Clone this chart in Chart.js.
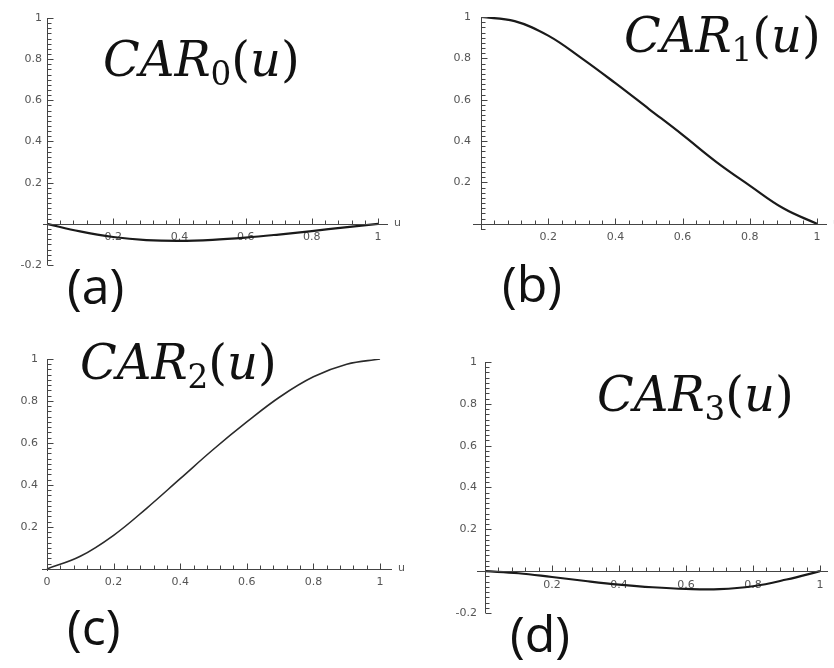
<!DOCTYPE html>
<html>
<head>
<meta charset="utf-8">
<script src="https://cdn.jsdelivr.net/npm/chart.js@4.4.1/dist/chart.umd.min.js"></script>
<style>
  body { margin: 0; background: #fff; }
  #page { position: relative; width: 834px; height: 668px; overflow: hidden; background: #fff; }
  .panel { position: absolute; }
  .title { position: absolute; font-family: 'DejaVu Serif', serif; font-style: italic; font-size: 48px; line-height: 1; white-space: nowrap; color: #111; }
  .title .sub { font-style: normal; font-size: 0.68em; position: relative; top: 0.28em; }
  .title .par { font-style: normal; }
  .tag { position: absolute; font-family: 'Open Sans', sans-serif; font-size: 50px; line-height: 1; color: #111; }
</style>
</head>
<body>
<div id="page">
  <div class="panel" style="left:0;top:0;width:417px;height:330px"><canvas id="chartA"></canvas></div>
  <div class="panel" style="left:417px;top:0;width:417px;height:330px"><canvas id="chartB"></canvas></div>
  <div class="panel" style="left:0;top:330px;width:417px;height:338px"><canvas id="chartC"></canvas></div>
  <div class="panel" style="left:417px;top:330px;width:417px;height:338px"><canvas id="chartD"></canvas></div>

  <div class="title" style="left:103px;top:35px">CAR<span class="sub">0</span><span class="par">(</span>u<span class="par">)</span></div>
  <div class="title" style="left:624px;top:11px">CAR<span class="sub">1</span><span class="par">(</span>u<span class="par">)</span></div>
  <div class="title" style="left:80px;top:338px">CAR<span class="sub">2</span><span class="par">(</span>u<span class="par">)</span></div>
  <div class="title" style="left:597px;top:370px">CAR<span class="sub">3</span><span class="par">(</span>u<span class="par">)</span></div>

  <div class="tag" style="left:67px;top:260px">(a)</div>
  <div class="tag" style="left:502px;top:258px">(b)</div>
  <div class="tag" style="left:67px;top:601px">(c)</div>
  <div class="tag" style="left:510px;top:608px">(d)</div>
</div>
<script>
// u samples and the four basis curves
const uValues = [0, 0.1, 0.2, 0.3, 0.4, 0.5, 0.6, 0.7, 0.8, 0.9, 1];
const car0 = [0, -0.037, -0.064, -0.079, -0.083, -0.078, -0.067, -0.052, -0.035, -0.017, 0];
const car1 = [1, 0.98, 0.91, 0.8, 0.68, 0.555, 0.43, 0.3, 0.185, 0.075, 0];
const car2 = [0, 0.06, 0.16, 0.29, 0.43, 0.57, 0.7, 0.82, 0.915, 0.975, 1];
const car3 = [0, -0.01, -0.028, -0.047, -0.064, -0.077, -0.085, -0.086, -0.072, -0.04, 0];

// tick labels
const xTicksNoZero = [0.2, 0.4, 0.6, 0.8, 1];
const xTicksWithZero = [0, 0.2, 0.4, 0.6, 0.8, 1];
const yTicksSigned = [-0.2, 0.2, 0.4, 0.6, 0.8, 1];
const yTicksPositive = [0.2, 0.4, 0.6, 0.8, 1];

const X_MINOR = 0.04;
const Y_MINOR = 0.025;
const Y_AXIS_W = 40;

function fmt(v) {
  if (Math.abs(v) < 1e-9) return '0';
  return String(Math.round(v * 10) / 10);
}

// axes crossing at the origin, with short ticks pointing into the plot
const crossAxes = {
  id: 'crossAxes',
  afterDatasetsDraw(chart, args, opts) {
    const { ctx, chartArea: a, scales: { x, y } } = chart;
    const x0 = Math.round(x.getPixelForValue(0)) + 0.5;
    const y0 = Math.round(y.getPixelForValue(0)) + 0.5;
    ctx.save();
    ctx.strokeStyle = '#444';
    ctx.lineWidth = 1;
    ctx.beginPath();
    ctx.moveTo(a.left, y0); ctx.lineTo(a.right, y0);
    ctx.moveTo(x0, a.top); ctx.lineTo(x0, a.bottom);
    for (let i = 1; i * X_MINOR <= 1.0001; i++) {
      const px = Math.round(x.getPixelForValue(i * X_MINOR)) + 0.5;
      const len = i % 5 === 0 ? 6 : 4;
      ctx.moveTo(px, y0); ctx.lineTo(px, y0 - len);
    }
    const iStart = Math.ceil(y.min / Y_MINOR - 1e-6);
    const iEnd = Math.floor(y.max / Y_MINOR + 1e-6);
    for (let i = iStart; i <= iEnd; i++) {
      if (i === 0) continue;
      const py = Math.round(y.getPixelForValue(i * Y_MINOR)) + 0.5;
      const len = i % 8 === 0 ? 6 : 4;
      ctx.moveTo(x0, py); ctx.lineTo(x0 + len, py);
    }
    ctx.stroke();
    if (opts.uLabel) {
      ctx.fillStyle = '#555';
      ctx.font = '11px "DejaVu Sans"';
      ctx.textBaseline = 'middle';
      ctx.fillText('u', a.right + 6, y0 - 1);
    }
    ctx.restore();
  }
};

function makeChart(p) {
  const points = uValues.map((u, i) => ({ x: u, y: p.values[i] }));
  return new Chart(document.getElementById(p.id), {
    type: 'line',
    data: {
      datasets: [{
        data: points,
        borderColor: p.color,
        borderWidth: p.width,
        pointRadius: 0,
        tension: 0.4,
        fill: false
      }]
    },
    options: {
      responsive: true,
      maintainAspectRatio: false,
      animation: false,
      events: [],
      layout: { padding: p.pad },
      plugins: {
        legend: { display: false },
        tooltip: { enabled: false },
        crossAxes: { uLabel: p.uLabel }
      },
      scales: {
        x: {
          type: 'linear',
          position: { y: 0 },
          min: p.xMin,
          max: p.xMax,
          grid: { display: false, drawTicks: false },
          border: { display: false },
          afterBuildTicks: s => { s.ticks = p.xTicks.map(v => ({ value: v })); },
          ticks: {
            padding: 7,
            maxRotation: 0,
            autoSkip: false,
            color: '#555',
            font: { family: 'DejaVu Sans', size: 11 },
            callback: v => fmt(v)
          }
        },
        y: {
          type: 'linear',
          position: 'left',
          min: p.yMin,
          max: p.yMax,
          grid: { display: false, drawTicks: false },
          border: { display: false },
          afterFit: s => { s.width = Y_AXIS_W; },
          afterBuildTicks: s => { s.ticks = p.yTicks.map(v => ({ value: v })); },
          ticks: {
            padding: p.yPad,
            autoSkip: false,
            color: '#555',
            font: { family: 'DejaVu Sans', size: 11 },
            callback: v => fmt(v)
          }
        }
      }
    },
    plugins: [crossAxes]
  });
}

// plot area edges are given as padding outside the fixed-width y axis
const panels = [
  { id: 'chartA', values: car0, xTicks: xTicksNoZero, yTicks: yTicksSigned,
    xMin: -0.012, xMax: 1.03, yMin: -0.2, yMax: 1,
    pad: { left: 43 - Y_AXIS_W, right: 29, top: 18, bottom: 65 }, yPad: 1, uLabel: true,
    color: '#1a1a1a', width: 2.2 },
  { id: 'chartB', values: car1, xTicks: xTicksNoZero, yTicks: yTicksPositive,
    xMin: -0.024, xMax: 1.03, yMin: -0.03, yMax: 1,
    pad: { left: 56 - Y_AXIS_W, right: 7, top: 17, bottom: 100 }, yPad: 2, uLabel: true,
    color: '#1a1a1a', width: 2.2 },
  { id: 'chartC', values: car2, xTicks: xTicksWithZero, yTicks: yTicksPositive,
    xMin: -0.015, xMax: 1.036, yMin: -0.01, yMax: 1,
    pad: { left: 42 - Y_AXIS_W, right: 25, top: 29, bottom: 97 }, yPad: 4, uLabel: true,
    color: '#2a2a2a', width: 1.6 },
  { id: 'chartD', values: car3, xTicks: xTicksNoZero, yTicks: yTicksSigned,
    xMin: -0.024, xMax: 1.024, yMin: -0.2, yMax: 1,
    pad: { left: 60 - Y_AXIS_W, right: 6, top: 32, bottom: 55 }, yPad: 0, uLabel: false,
    color: '#1a1a1a', width: 2.2 }
];

panels.forEach(makeChart);
</script>
</body>
</html>
